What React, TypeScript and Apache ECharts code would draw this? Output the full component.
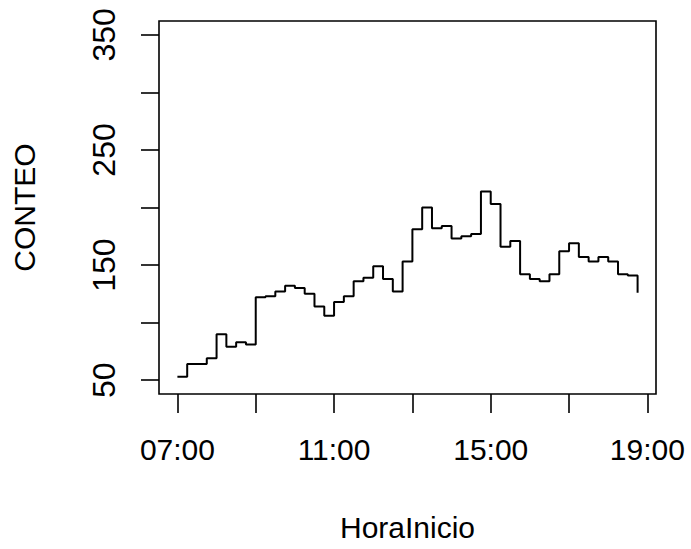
import React, { useEffect, useRef } from "react";
import * as echarts from "echarts";

const times: string[] = [
  "07:00", "07:15", "07:30", "07:45", "08:00", "08:15", "08:30", "08:45",
  "09:00", "09:15", "09:30", "09:45", "10:00", "10:15", "10:30", "10:45",
  "11:00", "11:15", "11:30", "11:45", "12:00", "12:15", "12:30", "12:45",
  "13:00", "13:15", "13:30", "13:45", "14:00", "14:15", "14:30", "14:45",
  "15:00", "15:15", "15:30", "15:45", "16:00", "16:15", "16:30", "16:45",
  "17:00", "17:15", "17:30", "17:45", "18:00", "18:15", "18:30", "18:45",
];
const conteo: number[] = [
  53, 64, 64, 69, 90, 79, 83, 81,
  122, 123, 127, 132, 130, 125, 114, 106,
  118, 123, 136, 139, 149, 138, 127, 153,
  181, 200, 182, 184, 173, 175, 177, 214,
  203, 166, 171, 142, 138, 136, 142, 162,
  169, 157, 153, 157, 153, 142, 141, 126,
];
const xTickHours: number[] = [7, 9, 11, 13, 15, 17, 19];
const xLabelHours: number[] = [7, 11, 15, 19];
const yTicks: number[] = [50, 100, 150, 200, 250, 300, 350];
const yLabels: number[] = [50, 150, 250, 350];

const toHours = (t: string) => {
  const [h, m] = t.split(":").map(Number);
  return h + m / 60;
};
const fmtHour = (v: number) => {
  const h = Math.floor(v + 1e-6);
  const m = Math.round((v - h) * 60);
  return String(h).padStart(2, "0") + ":" + String(m).padStart(2, "0");
};

const FONT = "'Liberation Sans', Arial, sans-serif";

export default function App() {
  const ref = useRef<HTMLDivElement>(null);
  useEffect(() => {
    if (!ref.current) return;
    const chart = echarts.init(ref.current, undefined, { renderer: "svg" });
    const xs = times.map(toHours);
    const pad = (xs[xs.length - 1] - xs[0]) * 0.04;
    chart.setOption({
      animation: false,
      backgroundColor: "#ffffff",
      grid: {
        show: true,
        left: 159,
        right: 35,
        top: 21,
        bottom: 155,
        borderColor: "#000",
        borderWidth: 1.6,
        backgroundColor: "transparent",
      },
      xAxis: {
        type: "value",
        min: xs[0] - pad,
        max: xs[xs.length - 1] + pad,
        splitLine: { show: false },
        axisLine: { show: false },
        axisTick: {
          show: true,
          customValues: xTickHours,
          length: 19,
          lineStyle: { color: "#000", width: 1.6 },
        },
        axisLabel: {
          customValues: xLabelHours,
          formatter: (v: number) => fmtHour(v),
          fontFamily: FONT,
          fontSize: 30,
          color: "#000",
          margin: 40,
        },
        name: "HoraInicio",
        nameLocation: "middle",
        nameGap: 118,
        nameTextStyle: { fontFamily: FONT, fontSize: 30, color: "#000" },
      },
      yAxis: {
        type: "value",
        min: 38,
        max: 362,
        splitLine: { show: false },
        axisLine: { show: false },
        axisTick: {
          show: true,
          customValues: yTicks,
          length: 18,
          lineStyle: { color: "#000", width: 1.6 },
        },
        axisLabel: {
          customValues: yLabels,
          rotate: 90,
          fontFamily: "'Liberation Sans Narrow', 'Liberation Sans', Arial, sans-serif",
          fontSize: 32,
          color: "#000",
          margin: 39,
        },
        name: "CONTEO",
        nameLocation: "middle",
        nameGap: 120,
        nameRotate: 90,
        nameTextStyle: { fontFamily: FONT, fontSize: 30, color: "#000" },
      },
      series: [
        {
          type: "line",
          step: "end",
          data: xs.map((x, i) => [x, conteo[i]]),
          showSymbol: false,
          lineStyle: { color: "#000", width: 2 },
        },
      ],
    });
    return () => chart.dispose();
  }, []);
  return <div ref={ref} style={{ width: 691, height: 549, position: "absolute", left: 0, top: 0 }} />;
}
